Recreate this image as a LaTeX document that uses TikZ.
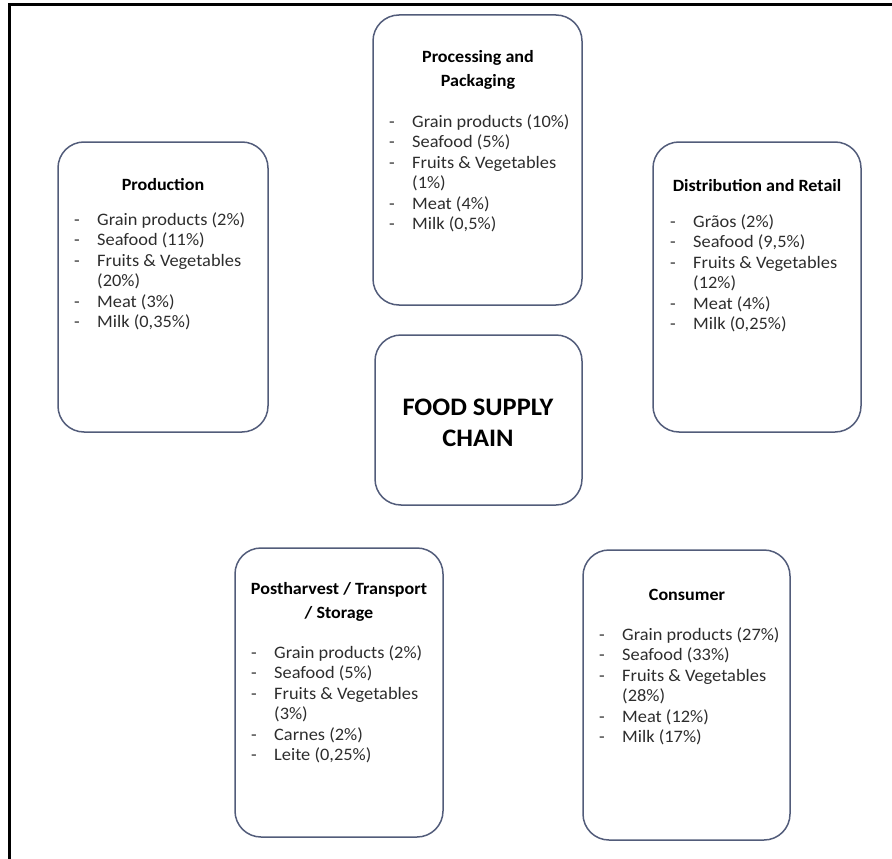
\documentclass[tikz,border=0pt]{standalone}
\usepackage{fontspec}
\setmainfont{Carlito}[FakeStretch=1.05]
\definecolor{boxline}{RGB}{82,92,122}
\definecolor{listtext}{RGB}{45,45,45}
\begin{document}
\begin{tikzpicture}[x=1pt,y=-1pt,
  stage/.style={draw=boxline, line width=1.5pt, rounded corners=26pt, inner sep=0pt},
  titletext/.style={anchor=north, inner sep=0pt, align=center, text=black,
    font=\fontsize{17.2}{24}\selectfont\bfseries},
  listtext/.style={anchor=north west, inner sep=0pt, align=left, text=listtext,
    font=\fontsize{17.5}{20.5}\selectfont},
  bigtext/.style={anchor=north, inner sep=0pt, align=center, text=black,
    font=\fontsize{25.2}{31}\selectfont\bfseries},
  frameline/.style={line width=3pt, black}]
\useasboundingbox (0,0) rectangle (892,859);
% outer frame
\coordinate (fbl) at (9,859);
\coordinate (ftl) at (9,5);
\coordinate (ftr) at (892,5);
\draw[frameline] (fbl) -- (ftl) -- (ftr);
\newcommand{\dashitem}[1]{\makebox[23pt][l]{-}#1}
\newcommand{\contitem}[1]{\hspace*{23pt}#1}
\newcommand{\tstrut}{\rule{0pt}{14pt}}
% boxes
\node[stage, minimum width=210pt, minimum height=290pt] (prod) at (163,287) {};
\node[stage, minimum width=209pt, minimum height=290pt] (proc) at (477.5,160) {};
\node[stage, minimum width=208pt, minimum height=290pt] (dist) at (757,287) {};
\node[stage, minimum width=207pt, minimum height=170pt] (fsc) at (478.5,420) {};
\node[stage, minimum width=208pt, minimum height=289pt] (post) at (339,692.5) {};
\node[stage, minimum width=207pt, minimum height=290pt] (cons) at (686.5,695) {};
% Production
\node[titletext] (prodT) at (163,176) {\tstrut Production};
\node[listtext] (prodL) at (74,211) {\tstrut\dashitem{Grain products (2\%)}\\ \dashitem{Seafood (11\%)}\\ \dashitem{Fruits \& Vegetables}\\ \contitem{(20\%)}\\ \dashitem{Meat (3\%)}\\ \dashitem{Milk (0,35\%)}};
% Processing
\node[titletext] (procT) at (478,48) {\tstrut Processing and\\ Packaging};
\node[listtext] (procL) at (389,113) {\tstrut\dashitem{Grain products (10\%)}\\ \dashitem{Seafood (5\%)}\\ \dashitem{Fruits \& Vegetables}\\ \contitem{(1\%)}\\ \dashitem{Meat (4\%)}\\ \dashitem{Milk (0,5\%)}};
% Distribution
\node[titletext] (distT) at (757,177) {\tstrut Distribution and Retail};
\node[listtext] (distL) at (670,213) {\tstrut\dashitem{Grãos (2\%)}\\ \dashitem{Seafood (9,5\%)}\\ \dashitem{Fruits \& Vegetables}\\ \contitem{(12\%)}\\ \dashitem{Meat (4\%)}\\ \dashitem{Milk (0,25\%)}};
% Center
\node[bigtext] (fscT) at (478,396) {\rule{0pt}{19pt}FOOD SUPPLY\\ CHAIN};
% Postharvest
\node[titletext] (postT) at (339,580) {\tstrut Postharvest / Transport\\ / Storage};
\node[listtext] (postL) at (251,644) {\tstrut\dashitem{Grain products (2\%)}\\ \dashitem{Seafood (5\%)}\\ \dashitem{Fruits \& Vegetables}\\ \contitem{(3\%)}\\ \dashitem{Carnes (2\%)}\\ \dashitem{Leite (0,25\%)}};
% Consumer
\node[titletext] (consT) at (687,586) {\tstrut Consumer};
\node[listtext] (consL) at (599,626) {\tstrut\dashitem{Grain products (27\%)}\\ \dashitem{Seafood (33\%)}\\ \dashitem{Fruits \& Vegetables}\\ \contitem{(28\%)}\\ \dashitem{Meat (12\%)}\\ \dashitem{Milk (17\%)}};
\end{tikzpicture}
\end{document}
